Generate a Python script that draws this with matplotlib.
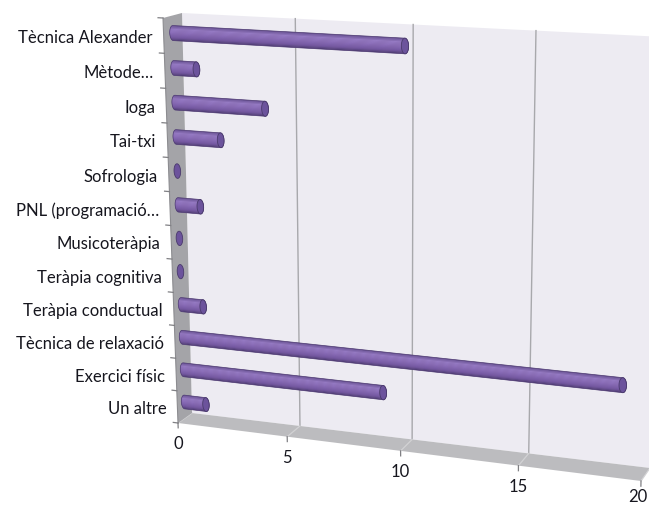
import numpy as np
import matplotlib
matplotlib.use("Agg")
import matplotlib.pyplot as plt
from matplotlib.transforms import Transform
from matplotlib.patches import Polygon
from matplotlib.colors import LinearSegmentedColormap

# ---------------- data ----------------
categories = ["Tècnica Alexander", "Mètode…", "Ioga", "Tai-txi", "Sofrologia",
              "PNL (programació…", "Musicoteràpia", "Teràpia cognitiva",
              "Teràpia conductual", "Tècnica de relaxació", "Exercici físic", "Un altre"]
values = [10, 1, 4, 2, 0, 1, 0, 0, 1, 19, 9, 1]
value_ticks = [0, 5, 10, 15, 20]

# ---------------- perspective layout ----------------
VMAX = 20
NROW = len(categories)


def homography(src, dst):
    A = []
    for (x, y), (u, v) in zip(src, dst):
        A.append([x, y, 1, 0, 0, 0, -u * x, -u * y, -u])
        A.append([0, 0, 0, x, y, 1, -v * x, -v * y, -v])
    _, _, Vt = np.linalg.svd(np.array(A, float))
    H = Vt[-1].reshape(3, 3)
    return H / H[2, 2]


corners = [(0, 0), (VMAX, 0), (0, NROW), (VMAX, NROW)]
H_back = homography(corners, [(182, 13), (664, 37), (192, 413), (650, 468)])
H_front = homography(corners, [(163, 18), (650, 45), (178, 423), (641, 481)])


class Persp(Transform):
    input_dims = 2
    output_dims = 2
    is_separable = False
    has_inverse = False

    def __init__(self, dz):
        super().__init__()
        self._dz = dz

    def transform_non_affine(self, pts):
        pts = np.asarray(pts, float).reshape(-1, 2)
        P = np.column_stack([pts, np.ones(len(pts))])

        def ap(H):
            q = P @ H.T
            return q[:, :2] / q[:, 2:3]
        return (1 - self._dz) * ap(H_back) + self._dz * ap(H_front)


fig = plt.figure(figsize=(6.49, 5.07), dpi=100)
ax = fig.add_axes([0, 0, 1, 1])
ax.set_xlim(0, 649)
ax.set_ylim(507, 0)
ax.axis("off")


def T(d):
    return Persp(d) + ax.transData


def P(d, pts):
    return Persp(d).transform_non_affine(pts)


FONT = ["Lato", "DejaVu Sans"]
TXT = "#16161e"
FS = 12

# back wall
ax.add_patch(Polygon([(0, 0), (VMAX, 0), (VMAX, NROW), (0, NROW)], closed=True,
                     transform=T(0), facecolor="#edebf2", edgecolor="none", zorder=1))
# back wall gridlines
for v in value_ticks[1:]:
    ax.plot([v, v], [0, NROW], transform=T(0), color="#a8a8ac", lw=1.0, zorder=2)

# floor
fb = P(0, [(0, NROW), (VMAX, NROW)])
ff = P(1, [(0, NROW), (VMAX, NROW)])
ax.add_patch(Polygon([fb[0], fb[1], ff[1], ff[0]], closed=True,
                     transform=ax.transData, facecolor="#bcbcbf", edgecolor="none", zorder=3))
for v in value_ticks:
    b = P(0, [(v, NROW)])[0]
    f = P(1, [(v, NROW)])[0]
    ax.plot([b[0], f[0]], [b[1], f[1]], color="#d2d2d4", lw=0.9, zorder=4)

# left wall
lb = P(0, [(0, 0), (0, NROW)])
lf = P(1, [(0, 0), (0, NROW)])
ax.add_patch(Polygon([lb[0], lb[1], lf[1], lf[0]], closed=True,
                     transform=ax.transData, facecolor="#a4a4a8", edgecolor="none", zorder=5))
ax.plot([0, 0], [0, NROW], transform=T(1), color="#8c8c90", lw=0.8, zorder=6)

# category ticks on the left front edge
for r in range(NROW + 1):
    ax.plot([-0.22, 0], [r, r], transform=T(1), color="#808084", lw=0.9, zorder=6)
# value ticks on the front floor edge
for v in value_ticks:
    ax.plot([v, v], [NROW, NROW + 0.15], transform=T(1), color="#808084", lw=0.9, zorder=6)

# cylinders
cmap = LinearSegmentedColormap.from_list(
    "cyl", [(0.0, "#654f90"), (0.25, "#957ac3"), (0.5, "#8a6db8"),
            (0.8, "#7357a1"), (1.0, "#4d3b70")])
H = 0.215   # half thickness in rows
W = 0.15    # half width of the end ellipse in value units
D = 0.5
th = np.linspace(-np.pi / 2, np.pi / 2, 24)
tt = np.linspace(0, 2 * np.pi, 48)
for i, val in enumerate(values):
    c = i + 0.5
    if val > 0:
        right = np.column_stack([val + W * np.cos(th), c + H * np.sin(th)])
        left = np.column_stack([-W * np.cos(th[::-1]), c + H * np.sin(th[::-1])])
        outline = np.vstack([right, left])
        body = Polygon(outline, closed=True, transform=T(D),
                       facecolor="#8064a2", edgecolor="none", zorder=10)
        ax.add_patch(body)
        n = 14
        for k in range(n):
            r1 = c - H + 2 * H * k / n
            r2 = c - H + 2 * H * (k + 1) / n + 0.003
            strip = Polygon([(-W - 0.2, r1), (val + W + 0.2, r1),
                             (val + W + 0.2, r2), (-W - 0.2, r2)],
                            closed=True, transform=T(D), facecolor=cmap((k + 0.5) / n),
                            edgecolor="none", zorder=11)
            ax.add_patch(strip)
            strip.set_clip_path(body)
        ax.add_patch(Polygon(outline, closed=True, transform=T(D),
                             facecolor="none", edgecolor="#4e3c72", lw=0.5, zorder=12))
    cap = np.column_stack([val + W * np.cos(tt), c + H * np.sin(tt)])
    ax.add_patch(Polygon(cap, closed=True, transform=T(D), facecolor="#6c539c",
                         edgecolor="#4a3a6c", lw=0.6, zorder=13))

# category labels
for i, name in enumerate(categories):
    x, y = P(1, [(0, i + 0.5)])[0]
    ax.text(x - 11, y + 2, name, ha="right", va="center", fontsize=FS,
            family=FONT, color=TXT, zorder=20)

# value labels
for v in value_ticks:
    x, y = P(1, [(v, NROW)])[0]
    ax.text(min(x, 638), min(y + 21, 497), str(v), ha="center", va="center", fontsize=FS,
            family=FONT, color=TXT, zorder=20)

fig.savefig("out.png", dpi=100, facecolor="white")
